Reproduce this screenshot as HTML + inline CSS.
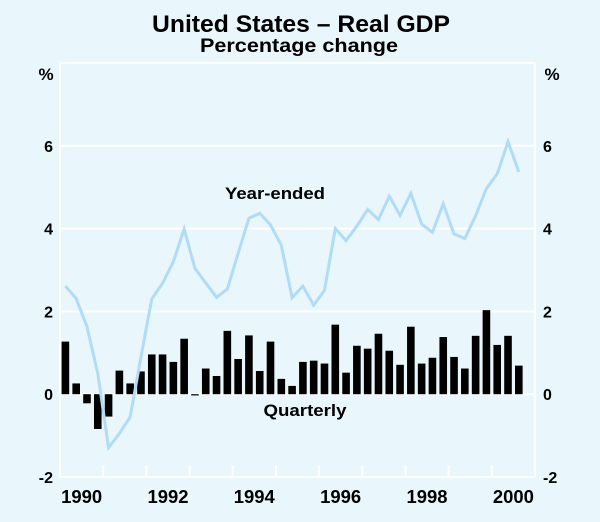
<!DOCTYPE html>
<html><head><meta charset="utf-8"><style>
html,body{margin:0;padding:0;background:#e9f6fb;}
svg{display:block;font-family:"Liberation Sans",Arial,sans-serif;}
</style></head><body>
<svg id="chart" width="600" height="522" viewBox="0 0 600 522">
<rect x="0" y="0" width="600" height="522" fill="#e9f6fb"/>
<text x="301" y="32" text-anchor="middle" font-size="24" font-weight="bold" textLength="298" lengthAdjust="spacingAndGlyphs">United States – Real GDP</text>
<text x="299" y="52" text-anchor="middle" font-size="19" font-weight="bold" textLength="198" lengthAdjust="spacingAndGlyphs">Percentage change</text>
<g id="grid"></g>
<g id="bars"></g>
<g id="line"></g>
<g id="axes"></g>
<text x="275" y="199" text-anchor="middle" font-size="17" font-weight="bold" textLength="100" lengthAdjust="spacingAndGlyphs">Year-ended</text>
<text x="305" y="416" text-anchor="middle" font-size="17" font-weight="bold" textLength="83" lengthAdjust="spacingAndGlyphs">Quarterly</text>
</svg>
<script>
const quarterly = [1.27,0.26,-0.22,-0.84,-0.54,0.57,0.26,0.55,0.96,0.96,0.78,1.34,-0.03,0.62,0.44,1.53,0.85,1.42,0.56,1.27,0.37,0.2,0.78,0.81,0.74,1.68,0.52,1.17,1.10,1.46,1.05,0.71,1.63,0.74,0.88,1.38,0.90,0.62,1.41,2.03,1.19,1.41,0.69];
const yearEnded = [2.61,2.31,1.63,0.5,-1.29,-0.95,-0.55,0.9,2.30,2.68,3.2,3.99,3.04,2.69,2.34,2.54,3.4,4.25,4.37,4.09,3.6,2.33,2.61,2.15,2.51,4.0,3.71,4.06,4.46,4.22,4.78,4.32,4.85,4.11,3.91,4.6,3.87,3.76,4.31,4.97,5.32,6.1,5.37];
const yTicks = [-2,0,2,4,6];
const yearLabels = [1990,1992,1994,1996,1998,2000];
const startYear = 1990, endYear = 2001;

const NS="http://www.w3.org/2000/svg";
const L=60, R=535, T=63, B=477;
const yMin=-2, yMax=8;
function y(v){return B-(v-yMin)/(yMax-yMin)*(B-T);}
function xYear(t){return L+(t-startYear)/(endYear-startYear)*(R-L);}
function xQ(i){return xYear(startYear+(i+0.5)/4);}
function mk(tag,attrs,parent){const e=document.createElementNS(NS,tag);for(const k in attrs)e.setAttribute(k,attrs[k]);parent.appendChild(e);return e;}
const grid=document.getElementById('grid'), bars=document.getElementById('bars'), line=document.getElementById('line'), axes=document.getElementById('axes');

yTicks.forEach(v=>{
  if(v>yMin){const g=mk('line',{x1:L,x2:R,y1:y(v),y2:y(v),stroke:'#ffffff','stroke-width':2},grid);
  
  }
  const t1=mk('text',{x:53,y:y(v)+6,'text-anchor':'end','font-size':16,'font-weight':'bold'},axes);t1.textContent=v;
  
  
  const t2=mk('text',{x:543,y:y(v)+6,'text-anchor':'start','font-size':16,'font-weight':'bold'},axes);t2.textContent=v;
  
  
});
const p1=mk('text',{x:46,y:80,'text-anchor':'middle','font-size':17,'font-weight':'bold'},axes);p1.textContent='%';


const p2=mk('text',{x:552,y:80,'text-anchor':'middle','font-size':17,'font-weight':'bold'},axes);p2.textContent='%';



[[L,T,L,B],[R,T,R,B],[L,T,R,T],[L,B,R,B]].forEach(c=>{const a=mk('line',{x1:c[0],y1:c[1],x2:c[2],y2:c[3],stroke:'#ffffff','stroke-width':2},axes);

});
for(let yr=startYear+1;yr<endYear;yr++){const t=mk('line',{x1:xYear(yr),x2:xYear(yr),y1:B,y2:B-12,stroke:'#ffffff','stroke-width':2},axes);

}
yearLabels.forEach(yr=>{const t=mk('text',{x:xYear(yr+0.5),y:503,'text-anchor':'middle','font-size':18,'font-weight':'bold',textLength:41,lengthAdjust:'spacingAndGlyphs'},axes);t.textContent=yr;

});

const bw=7.6;
quarterly.forEach((v,i)=>{const y0=y(0),y1=y(v);const h=Math.max(Math.abs(y1-y0),1.2);
const r=mk('rect',{x:xQ(i)-bw/2,y:Math.min(y0,y1),width:bw,height:h,fill:'#000'},bars);

});

const pl=mk('polyline',{points:yearEnded.map((v,i)=>xQ(i)+','+y(v)).join(' '),fill:'none',stroke:'#b0dcf6','stroke-width':3,'stroke-linejoin':'miter'},line);


</script>
</body></html>
